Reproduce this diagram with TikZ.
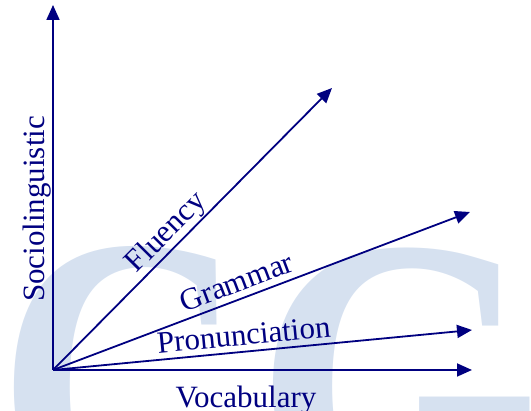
\documentclass[tikz,border=0pt]{standalone}
\usepackage{fontspec}
\usepackage{graphicx}
\setmainfont{Liberation Serif}
\usetikzlibrary{arrows.meta}
\definecolor{axisblue}{RGB}{0,0,128}
\definecolor{wmblue}{RGB}{214,225,240}
\begin{document}
\begin{tikzpicture}[x=1pt,y=1pt,
  axis/.style={draw=axisblue, line width=1.8pt, -{Triangle[length=15pt,width=13pt]}},
  lbl/.style={text=axisblue, font=\fontsize{31}{33}\selectfont, inner sep=0pt},
  wm/.style={text=wmblue, font=\bfseries\fontsize{345}{345}\selectfont, inner sep=0pt, anchor=base west}]
\useasboundingbox (0,0) rectangle (531,411);
\begin{scope}
\clip (0,0) rectangle (531,411);
\node[wm] (wc) at (-3,-110) {\scalebox{1}[1.2]{C}};
\node[wm] (wg) at (255,-107) {\scalebox{1.06}[1.18]{G}};
\end{scope}
\coordinate (O) at (53,41);
\coordinate (S) at (53,406);
\coordinate (F) at (332,323);
\coordinate (G) at (470,199);
\coordinate (P) at (472,81);
\coordinate (V) at (472,41);
\draw[axis] (O) -- (S);
\draw[axis] (O) -- (F);
\draw[axis] (O) -- (G);
\draw[axis] (O) -- (P);
\draw[axis] (O) -- (V);
\node[lbl, rotate=90, anchor=base] (ls) at (44,202) {Sociolinguistic};
\node[lbl, rotate=45.3, anchor=base] (lf) at (172,173) {Fluency};
\node[lbl, rotate=20.75, anchor=base] (lg) at (240,119.5) {Grammar};
\node[lbl, rotate=5.45, anchor=base] (lp) at (244.6,65.8) {Pronunciation};
\node[lbl, anchor=base] (lv) at (246,3) {Vocabulary};
\end{tikzpicture}
\end{document}
